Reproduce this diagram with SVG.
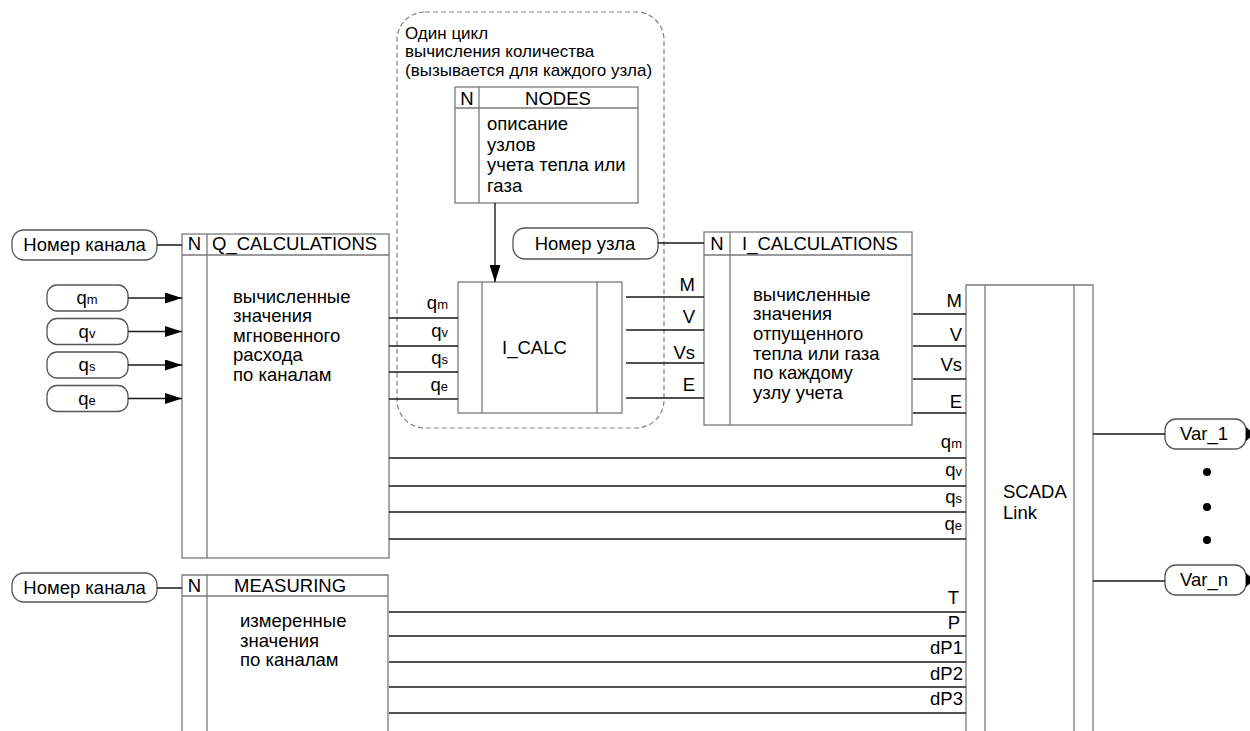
<svg xmlns="http://www.w3.org/2000/svg" width="1250" height="731" viewBox="0 0 1250 731">
<style>
.box{fill:#fff;stroke:#7a7a7a;stroke-width:1.3}
.dv{fill:none;stroke:#7a7a7a;stroke-width:1.3}
.pill{fill:#fff;stroke:#555;stroke-width:1.3}
.ln{fill:none;stroke:#1a1a1a;stroke-width:1.4}
.dash{fill:none;stroke:#808080;stroke-width:1.2;stroke-dasharray:5 3}
text{font-family:"Liberation Sans",Arial,sans-serif;font-size:18.5px;fill:#000}
.r{text-anchor:end}
.m{text-anchor:middle}
.sub{font-size:13px}
.sm{font-size:17px}
</style>
<defs>
<marker id="arr" markerWidth="17" markerHeight="11" refX="17" refY="5.5" orient="auto" markerUnits="userSpaceOnUse"><path d="M0,0 L17,5.5 L0,11 Z" fill="#000"/></marker>
</defs>

<g id="cycle">
<rect class="dash" x="397" y="12" width="267" height="416" rx="28"/>
<text class="sm" x="405" y="39">Один цикл</text>
<text class="sm" x="405" y="57">вычисления количества</text>
<text class="sm" x="405" y="76">(вызывается для каждого узла)</text>
</g>

<g id="nodes">
<rect class="box" x="455" y="87" width="183" height="116"/>
<path class="dv" d="M455,108 H638 M479,87 V203"/>
<text class="m" x="467" y="105">N</text>
<text class="m" x="558" y="105">NODES</text>
<text x="487" y="130">описание</text>
<text x="487" y="150.5">узлов</text>
<text x="487" y="171">учета тепла или</text>
<text x="487" y="191.5">газа</text>
</g>

<g id="q_calculations">
<rect class="box" x="182" y="234" width="207" height="324"/>
<path class="dv" d="M182,255 H389 M207,234 V558"/>
<text class="m" x="194.5" y="250">N</text>
<text x="212" y="250">Q_CALCULATIONS</text>
<text x="233" y="303">вычисленные</text>
<text x="233" y="322">значения</text>
<text x="233" y="342">мгновенного</text>
<text x="233" y="361">расхода</text>
<text x="233" y="381">по каналам</text>
</g>

<g id="i_calc">
<rect class="box" x="458" y="282" width="164" height="131"/>
<path class="dv" d="M482,282 V413 M597,282 V413"/>
<text x="502" y="354">I_CALC</text>
</g>

<g id="i_calculations">
<rect class="box" x="704" y="232" width="208" height="193"/>
<path class="dv" d="M704,255 H912 M730,232 V425"/>
<text class="m" x="717" y="250">N</text>
<text x="742" y="250">I_CALCULATIONS</text>
<text x="753" y="301">вычисленные</text>
<text x="753" y="320">значения</text>
<text x="753" y="340">отпущенного</text>
<text x="753" y="360">тепла или газа</text>
<text x="753" y="379">по каждому</text>
<text x="753" y="399">узлу учета</text>
</g>

<g id="measuring">
<path class="box" d="M182,740 V575 H388 V740"/>
<path class="dv" d="M182,596 H388 M207,575 V740"/>
<text class="m" x="194.5" y="592">N</text>
<text x="234" y="592">MEASURING</text>
<text x="240" y="627">измеренные</text>
<text x="240" y="647">значения</text>
<text x="240" y="666">по каналам</text>
</g>

<g id="scada_link">
<path class="box" d="M966,740 V285 H1093 V740"/>
<path class="dv" d="M985,285 V740 M1074,285 V740"/>
<text x="1003" y="498">SCADA</text>
<text x="1003" y="519">Link</text>
</g>

<g id="channel_no_1">
<rect class="pill" x="12" y="230" width="145" height="30" rx="12"/>
<text class="m" x="84.5" y="251">Номер канала</text>
</g>
<g id="channel_no_2">
<rect class="pill" x="12" y="573" width="145" height="29" rx="12"/>
<text class="m" x="84.5" y="594">Номер канала</text>
</g>
<g id="node_no">
<rect class="pill" x="513" y="228" width="145" height="31" rx="12"/>
<text class="m" x="585" y="250">Номер узла</text>
</g>

<g id="in_qm"><rect class="pill" x="47" y="285" width="81" height="26" rx="10"/><text class="m" x="87" y="304">q<tspan class="sub">m</tspan></text></g>
<g id="in_qv"><rect class="pill" x="47" y="318.5" width="81" height="26" rx="10"/><text class="m" x="87" y="337.5">q<tspan class="sub">v</tspan></text></g>
<g id="in_qs"><rect class="pill" x="47" y="352" width="81" height="26" rx="10"/><text class="m" x="87" y="371">q<tspan class="sub">s</tspan></text></g>
<g id="in_qe"><rect class="pill" x="47" y="385.5" width="81" height="26" rx="10"/><text class="m" x="87" y="404.5">q<tspan class="sub">e</tspan></text></g>

<g id="var_1">
<rect class="pill" x="1165" y="419" width="81" height="30" rx="11"/>
<text class="m" x="1204" y="440">Var_1</text>
<path d="M1246,427 L1254,434 L1246,441 Z" fill="#000"/>
</g>
<g id="var_n">
<rect class="pill" x="1165" y="565" width="81" height="30" rx="11"/>
<text class="m" x="1204" y="586">Var_n</text>
<path d="M1246,573 L1254,580 L1246,587 Z" fill="#000"/>
</g>
<g id="ellipsis">
<circle cx="1207" cy="472" r="4" fill="#000"/>
<circle cx="1207" cy="507" r="4" fill="#000"/>
<circle cx="1207" cy="540" r="4" fill="#000"/>
</g>

<g id="connectors">
<path class="ln" d="M157,245 H182 M157,588 H182 M658,243 H704"/>
<path class="ln" d="M128,298 H182" marker-end="url(#arr)"/>
<path class="ln" d="M128,331.5 H182" marker-end="url(#arr)"/>
<path class="ln" d="M128,365 H182" marker-end="url(#arr)"/>
<path class="ln" d="M128,398.5 H182" marker-end="url(#arr)"/>
<path class="ln" d="M495,203 V282" marker-end="url(#arr)"/>
<path class="ln" d="M389,318 H458 M389,346 H458 M389,372 H458 M389,399 H458"/>
<path class="ln" d="M626,297 H704 M626,330 H704 M626,363 H704 M626,398 H704"/>
<path class="ln" d="M913,314 H966 M913,346 H966 M913,379 H966 M913,413 H966"/>
<path class="ln" d="M389,458 H966 M389,486 H966 M389,512 H966 M389,539 H966"/>
<path class="ln" d="M389,612 H966 M389,636 H966 M389,662 H966 M389,687 H966 M389,713 H966"/>
<path class="ln" d="M1093,434 H1165 M1093,581 H1165"/>
<text class="r" x="448" y="309">q<tspan class="sub">m</tspan></text>
<text class="r" x="448" y="337">q<tspan class="sub">v</tspan></text>
<text class="r" x="448" y="364">q<tspan class="sub">s</tspan></text>
<text class="r" x="448" y="391">q<tspan class="sub">e</tspan></text>
<text class="r" x="695" y="291">M</text>
<text class="r" x="695" y="323">V</text>
<text class="r" x="695" y="359">Vs</text>
<text class="r" x="695" y="391">E</text>
<text class="r" x="962" y="307">M</text>
<text class="r" x="962" y="341">V</text>
<text class="r" x="962" y="371">Vs</text>
<text class="r" x="962" y="408">E</text>
<text class="r" x="962" y="448">q<tspan class="sub">m</tspan></text>
<text class="r" x="962" y="476">q<tspan class="sub">v</tspan></text>
<text class="r" x="962" y="503">q<tspan class="sub">s</tspan></text>
<text class="r" x="962" y="530">q<tspan class="sub">e</tspan></text>
<text class="r" x="959" y="604">T</text>
<text class="r" x="960" y="629">P</text>
<text class="r" x="963" y="654">dP1</text>
<text class="r" x="963" y="680">dP2</text>
<text class="r" x="963" y="705">dP3</text>
</g>
</svg>
